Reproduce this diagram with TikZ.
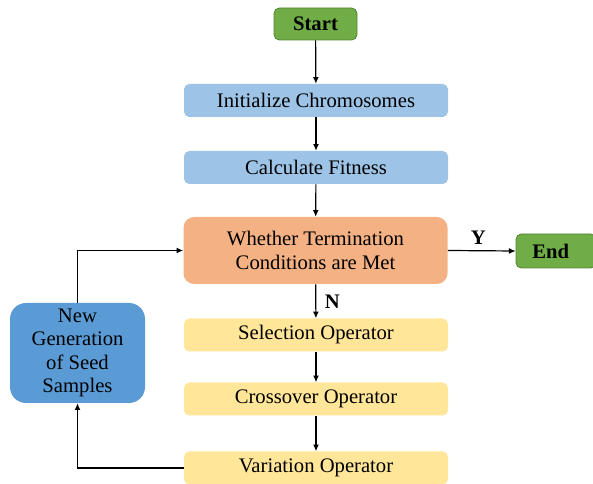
\documentclass[tikz,border=0pt]{standalone}
\usepackage{fontspec}
\setmainfont{Liberation Serif}
\usepackage{xcolor}
\usetikzlibrary{positioning,arrows.meta}
\definecolor{termgreen}{HTML}{70AD47}
\definecolor{termedge}{HTML}{548235}
\definecolor{initblue}{HTML}{9DC3E6}
\definecolor{condorange}{HTML}{F4B183}
\definecolor{opyellow}{HTML}{FFE699}
\definecolor{seedblue}{HTML}{5B9BD5}

\begin{document}
\begin{tikzpicture}[x=0.75pt, y=-0.75pt,
  font=\fontsize{15.5}{17.5}\selectfont,
  line/.style={-{Latex[length=5pt,width=4.5pt]}, line width=0.9pt, draw=black},
  box/.style={rounded corners=4pt, draw=none, minimum width=198pt, minimum height=24.75pt, align=center, inner sep=2pt},
  term/.style={box, fill=termgreen, draw=termedge, line width=0.6pt, minimum width=62.25pt, minimum height=24pt, font=\fontsize{15.5}{17.5}\selectfont\bfseries},
  prep/.style={box, fill=initblue},
  cond/.style={box, fill=condorange, rounded corners=8pt, minimum height=50.25pt},
  oper/.style={box, fill=opyellow},
  seed/.style={box, fill=seedblue, rounded corners=12pt, minimum width=101.25pt, minimum height=75pt},
  tag/.style={font=\fontsize{15.5}{17.5}\selectfont\bfseries}
]
\useasboundingbox (0,0) rectangle (593,484);

\node[term] (start) at (315.5,24) {Start};
\node[prep] (init) at (316,100.5) {Initialize Chromosomes};
\node[prep] (fit) at (316,167.5) {Calculate Fitness};
\node[cond] (check) at (315.5,250.5) {Whether Termination\\Conditions are Met};
\node[term, minimum width=60pt, minimum height=25.5pt] (stop) at (556,251) {\hspace*{-8pt}End};
\node[oper] (select) at (316,335) {Selection Operator};
\node[oper] (cross) at (316,399) {Crossover Operator};
\node[oper] (vary) at (316,468) {Variation Operator};
\node[seed] (seedgen) at (77.5,353) {New\\Generation\\of Seed\\Samples};

\draw[line] (start) -- (init);
\draw[line] (init) -- (fit);
\draw[line] (fit) -- (check);
\draw[line] (check.east) -- node[tag, above=1pt, pos=0.45] {Y} (stop.west);
\draw[line] (check) -- node[tag, right=3pt] {N} (select);
\draw[line] (select) -- (cross);
\draw[line] (cross) -- (vary);
\draw[line] (vary.west) -| (seedgen.south);
\draw[line] (seedgen.north) |- (check.west);
\end{tikzpicture}
\end{document}
